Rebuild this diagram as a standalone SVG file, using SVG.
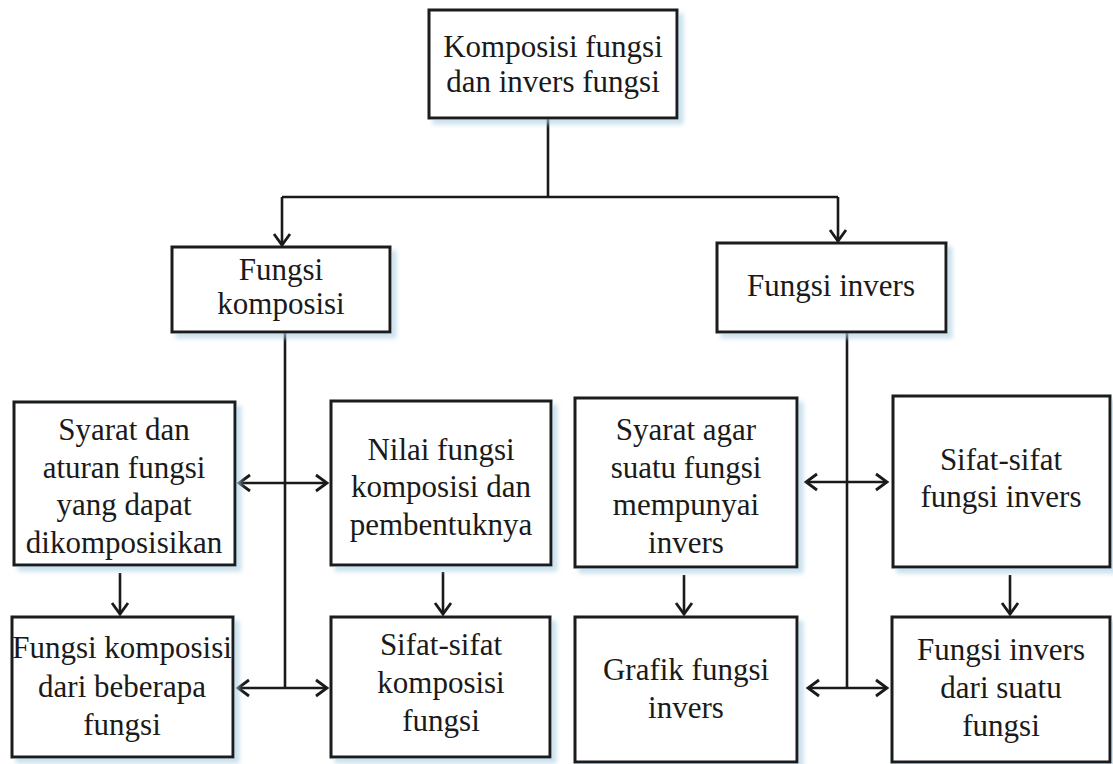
<svg xmlns="http://www.w3.org/2000/svg" width="1113" height="764" viewBox="0 0 1113 764">
<defs>
<style>
.box{fill:#fff;stroke:#1a1a1a;stroke-width:3;filter:url(#sh)}
.t{font-family:'Liberation Serif','Times New Roman','DejaVu Serif',serif;font-size:31px;fill:#1a1a1a;text-anchor:middle}
.c{fill:none;stroke:#1a1a1a;stroke-width:2.6}
.a{marker-end:url(#arr)}
.d{marker-start:url(#arr);marker-end:url(#arr)}
</style>
<filter id="sh" x="-10%" y="-10%" width="130%" height="130%">
<feDropShadow dx="5" dy="5" stdDeviation="2" flood-color="#a9cfe2" flood-opacity="0.6"/>
</filter>
<marker id="arr" viewBox="-14 -10 17 20" refX="0" refY="0" markerWidth="17" markerHeight="20" markerUnits="userSpaceOnUse" orient="auto-start-reverse">
<path d="M-11,-8 L0,0 L-11,8" fill="none" stroke="#1a1a1a" stroke-width="2.8"/>
</marker>
</defs>
<rect width="1113" height="764" fill="#fff"/>
<g id="connectors">
<path class="c" d="M548,118 V197"/>
<path class="c" stroke-width="2" d="M282,197 H838"/>
<path class="c a" d="M282,197 V245"/>
<path class="c a" d="M838,197 V241"/>
<path class="c" stroke-width="3" d="M285,332 V688"/>
<path class="c d" d="M239,483 H327"/>
<path class="c d" d="M238,688 H327"/>
<path class="c a" d="M120,573 V614"/>
<path class="c a" d="M443,572 V614"/>
<path class="c" stroke-width="3" d="M847,332 V688"/>
<path class="c d" d="M806,482 H887"/>
<path class="c d" d="M808,688 H887"/>
<path class="c a" d="M684,575 V614"/>
<path class="c a" d="M1010,575 V614"/>
</g>
<g font-family="Liberation Serif, serif">
<g id="n-root">
<rect class="box" x="429" y="10" width="248" height="108"/>
<text class="t" x="553" y="57">Komposisi fungsi</text>
<text class="t" x="553" y="92">dan invers fungsi</text>
</g>
<g id="n-fk">
<rect class="box" x="172" y="247" width="218" height="85"/>
<text class="t" x="281" y="280">Fungsi</text>
<text class="t" x="281" y="314">komposisi</text>
</g>
<g id="n-fi">
<rect class="box" x="717" y="243" width="229" height="89"/>
<text class="t" x="831" y="296">Fungsi invers</text>
</g>
<g id="n-syarat">
<rect class="box" x="14" y="402" width="221" height="163"/>
<text class="t" x="124" y="440">Syarat dan</text>
<text class="t" x="124" y="478">aturan fungsi</text>
<text class="t" x="124" y="515">yang dapat</text>
<text class="t" x="124" y="553">dikomposisikan</text>
</g>
<g id="n-nilai">
<rect class="box" x="331" y="401" width="220" height="164"/>
<text class="t" x="441" y="460">Nilai fungsi</text>
<text class="t" x="441" y="497">komposisi dan</text>
<text class="t" x="441" y="535">pembentuknya</text>
</g>
<g id="n-fkb">
<rect class="box" x="12" y="617" width="221" height="140"/>
<text class="t" x="122" y="658">Fungsi komposisi</text>
<text class="t" x="122" y="697">dari  beberapa</text>
<text class="t" x="122" y="735">fungsi</text>
</g>
<g id="n-sifatk">
<rect class="box" x="331" y="617" width="219" height="140"/>
<text class="t" x="441" y="655">Sifat-sifat</text>
<text class="t" x="441" y="693">komposisi</text>
<text class="t" x="441" y="731">fungsi</text>
</g>
<g id="n-syarati">
<rect class="box" x="575" y="398" width="222" height="169"/>
<text class="t" x="686" y="440">Syarat  agar</text>
<text class="t" x="686" y="478">suatu fungsi</text>
<text class="t" x="686" y="515">mempunyai</text>
<text class="t" x="686" y="553">invers</text>
</g>
<g id="n-sifati">
<rect class="box" x="893" y="396" width="217" height="171"/>
<text class="t" x="1001" y="470">Sifat-sifat</text>
<text class="t" x="1001" y="507">fungsi invers</text>
</g>
<g id="n-grafik">
<rect class="box" x="575" y="617" width="222" height="145"/>
<text class="t" x="686" y="680">Grafik fungsi</text>
<text class="t" x="686" y="718">invers</text>
</g>
<g id="n-fids">
<rect class="box" x="892" y="617" width="218" height="145"/>
<text class="t" x="1001" y="660">Fungsi invers</text>
<text class="t" x="1001" y="698">dari suatu</text>
<text class="t" x="1001" y="736">fungsi</text>
</g>
</g>
</svg>
